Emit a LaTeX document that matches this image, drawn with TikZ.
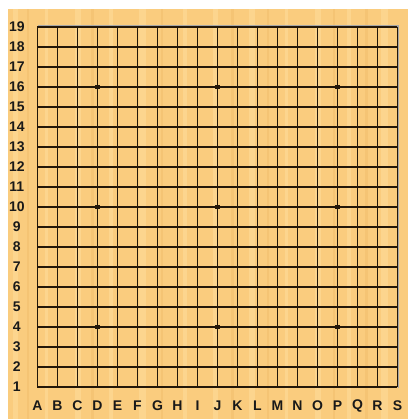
\documentclass[tikz,border=0pt]{standalone}
\usepackage{fontspec}
\setmainfont{Liberation Sans}
\usetikzlibrary{positioning}
\definecolor{woodbase}{HTML}{FACC7E}
\definecolor{woodlight}{HTML}{FDD892}
\definecolor{woodshade}{HTML}{F3C271}
\definecolor{gridink}{HTML}{231708}
\tikzset{
  % brett
  board/.style={fill=woodbase,draw=none},
  streak/.style={fill=woodlight,draw=none,opacity=0.8},
  dstreak/.style={fill=woodshade,draw=none,opacity=0.7},
  gline/.style={draw=gridink,line width=1.1pt},
  hoshi/.style={rectangle,fill=gridink,inner sep=0pt,minimum size=3.7pt},
  rowlbl/.style={font=\fontsize{10.5}{12}\selectfont\bfseries,text=black!90,inner sep=0pt},
  collbl/.style={font=\fontsize{10.5}{12}\selectfont\bfseries,text=black!90,inner sep=0pt},
}
\begin{document}
\begin{tikzpicture}[x=15pt,y=15pt]
\useasboundingbox (-1.875,-1.6) rectangle (18.525,19.35);
  \fill[white] (-1.875,-1.6) rectangle (18.525,19.35);
  \fill[board] (-1.475,-1.6) rectangle (18.525,18.9);
  % maserung
  \foreach \sx/\sw in {-1.2/0.25,0.4/0.15,1.9/0.3,3.6/0.2,5.1/0.35,7.3/0.2,
                       8.8/0.25,10.6/0.3,12.4/0.15,13.9/0.3,15.5/0.2,17.2/0.35}
    \fill[streak] (\sx,-1.6) rectangle ++(\sw,20.5);
  \foreach \sx/\sw in {-0.5/0.1,2.7/0.12,6.2/0.1,9.7/0.12,11.5/0.1,14.8/0.1,16.4/0.12}
    \fill[dstreak] (\sx,-1.6) rectangle ++(\sw,20.5);
  % skugga
  \draw[black!35,line width=0.8pt] (0.05,18.05) -- (18.06,18.05) -- (18.06,-0.05);
  % linjer
  \foreach \i in {0,...,18} {
    \draw[gline] (\i,0) -- (\i,18);
    \draw[gline] (0,\i) -- (18,\i);
  }
  % stjärnpunkter
  \foreach \hx in {3,9,15}
    \foreach \hy in {3,9,15}
      \node[hoshi] (h\hx-\hy) at (\hx,\hy) {};
  % koordinater
  \foreach \r in {1,...,19}
    \node[rowlbl] (r\r) at (-1.035,\r-1) {\r};
  \foreach \c [count=\k from 0] in {A,B,C,D,E,F,G,H,I,J,K,L,M,N,O,P,Q,R,S}
    \node[collbl] (c\c) at (\k,-0.95) {\c};
\end{tikzpicture}
\end{document}
